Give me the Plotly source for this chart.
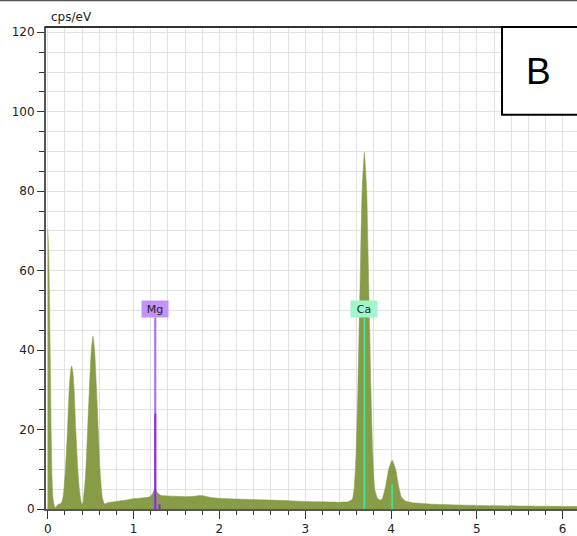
import plotly.graph_objects as go

# ---- Spectrum (energy in keV, counts in cps/eV) ----
energy = [0.0, 0.01, 0.02, 0.03, 0.04, 0.05, 0.06, 0.075, 0.09, 0.11, 0.13, 0.16, 0.18, 0.193,
          0.207, 0.231, 0.250, 0.265, 0.279, 0.293, 0.308, 0.327, 0.351, 0.364, 0.379, 0.395,
          0.41, 0.418, 0.432, 0.445, 0.465, 0.485, 0.508, 0.527, 0.546, 0.569, 0.589, 0.609,
          0.622, 0.636, 0.66,
          0.7, 0.8, 0.9, 1.0, 1.1, 1.18, 1.22, 1.25, 1.28, 1.32, 1.4, 1.5, 1.6, 1.7, 1.76, 1.82,
          1.9, 2.0, 2.2, 2.5, 2.8, 3.0, 3.2, 3.4, 3.5, 3.55,
          3.57, 3.585, 3.595, 3.614, 3.628, 3.643, 3.663, 3.69, 3.717, 3.737, 3.752, 3.766,
          3.785, 3.795, 3.81, 3.84, 3.87, 3.89, 3.905, 3.94, 3.972, 4.013, 4.054, 4.086,
          4.121, 4.17, 4.25, 4.5, 5.0, 5.5, 6.0, 6.2]
counts = [70.5, 66, 55, 38, 20, 8, 3, 1.0, 0.3, 0.9, 1.2, 1.5, 3.2, 6,
          10, 20, 30, 34.5, 36, 34.5, 30, 20, 10, 6, 3.2, 1.4,
          1.4, 3, 6, 10, 20, 30, 40, 43.5, 40, 30, 20, 10,
          6, 3, 1.3,
          1.6, 1.9, 2.2, 2.6, 2.8, 3.0, 3.8, 5.3, 4.0, 3.4, 3.3, 3.2, 3.1, 3.2, 3.4, 3.3,
          2.9, 2.7, 2.5, 2.3, 2.1, 1.9, 1.8, 1.7, 1.8, 2.5,
          5, 10, 15, 30, 45, 60, 80, 89.8, 80, 60, 45, 30,
          15, 10, 5, 2.8, 2.3, 2.3, 3, 6, 10, 12.3, 10, 6,
          3, 2.0, 1.6, 1.2, 0.9, 0.75, 0.65, 0.6]

# ---- Element markers ----
elements = ["Mg", "Ca"]
elem_energy = [1.253, 3.690]
elem_label_height = [48.2, 48.0]
elem_line_height = [24.0, 24.0]
minor_energy = [1.302, 4.013]
minor_height = [1.2, 6.3]
label_bg = ["#c592f7", "#a0f7cc"]
line_light = ["#a66be8", "#45eca2"]
line_dark = ["#8a2be2", "#3ce89c"]

x_tick_vals = [0, 1, 2, 3, 4, 5, 6]
y_tick_vals = [0, 20, 40, 60, 80, 100, 120]

fig = go.Figure()
fig.add_trace(go.Scatter(x=energy, y=counts, mode="lines", fill="tozeroy",
                         line=dict(color="#889c48", width=0.5, shape="spline", smoothing=0.4),
                         fillcolor="#889c48", hoverinfo="skip"))

for i, el in enumerate(elements):
    w = 2 if el == "Mg" else 1.5
    fig.add_trace(go.Scatter(x=[elem_energy[i], elem_energy[i]], y=[0, elem_label_height[i]],
                             mode="lines", line=dict(color=line_light[i], width=w)))
    fig.add_trace(go.Scatter(x=[elem_energy[i], elem_energy[i]], y=[0, elem_line_height[i]],
                             mode="lines", line=dict(color=line_dark[i], width=w)))
    fig.add_trace(go.Scatter(x=[minor_energy[i], minor_energy[i]], y=[0, minor_height[i]],
                             mode="lines", line=dict(color=line_dark[i], width=w)))
    fig.add_annotation(x=elem_energy[i], y=elem_label_height[i], xref="x", yref="y",
                       text=el, showarrow=False, yanchor="bottom", xanchor="center",
                       bgcolor=label_bg[i], borderpad=1, width=24, height=14,
                       font=dict(family="DejaVu Sans", size=11, color="#222"))

grid_c = "#e2e2e2"
fig.update_layout(
    width=577, height=536,
    margin=dict(l=46, r=0, t=27, b=25),
    paper_bgcolor="white", plot_bgcolor="white",
    showlegend=False,
    font=dict(family="DejaVu Sans", size=12, color="#222"),
    xaxis=dict(range=[-0.02, 6.167], tickvals=x_tick_vals, ticks="outside", ticklen=8,
               tickcolor="#333", showline=True, linecolor="#555", linewidth=2,
               showgrid=True, gridcolor=grid_c, gridwidth=1, zeroline=False,
               minor=dict(dtick=0.2, tick0=0, ticks="outside", ticklen=4, tickcolor="#333",
                          showgrid=True, gridcolor=grid_c, gridwidth=1),
               tickfont=dict(size=12, color="#222")),
    yaxis=dict(range=[0, 121.33], tickvals=y_tick_vals, ticks="outside", ticklen=7,
               tickcolor="#333", showline=True, linecolor="#555", linewidth=2,
               showgrid=True, gridcolor=grid_c, gridwidth=1, zeroline=False,
               minor=dict(dtick=5, tick0=0, ticks="outside", ticklen=5, tickcolor="#333",
                          showgrid=True, gridcolor=grid_c, gridwidth=1),
               tickfont=dict(size=12, color="#222")),
)

# unit label
fig.add_annotation(xref="paper", yref="paper", x=0, y=1, xshift=3, yshift=1,
                   xanchor="left", yanchor="bottom", text="cps/eV", showarrow=False,
                   font=dict(family="DejaVu Sans", size=12, color="#222"))

# top borders
fig.add_shape(type="line", xref="paper", yref="paper", x0=-0.1, x1=1.1, y0=1.0548, y1=1.0548,
              line=dict(color="#555", width=1.5), layer="above")
fig.add_shape(type="line", xref="paper", yref="paper", x0=-0.003, x1=0.86, y0=1.0, y1=1.0,
              line=dict(color="#333", width=2), layer="above")

# panel letter box
fig.add_shape(type="rect", xref="paper", yref="paper", x0=0.8588, x1=1.05, y0=0.818, y1=1.0,
              line=dict(color="black", width=2), fillcolor="white", layer="above")
fig.add_annotation(xref="paper", yref="paper", x=0.9266, y=0.907, text="B", showarrow=False,
                   xanchor="center", yanchor="middle",
                   font=dict(family="Liberation Sans", size=37, color="black"))

fig.write_html("out.html")
